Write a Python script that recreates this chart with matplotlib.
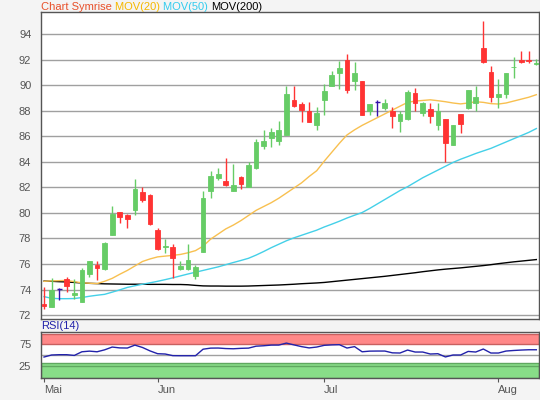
import matplotlib
matplotlib.use("Agg")
import matplotlib.pyplot as plt
import numpy as np

plt.rcParams['font.family'] = ['Liberation Sans', 'DejaVu Sans']

# daily candles (trading-day index 0..65)
opens = [72.9, 72.6, 74.05, 74.85, 73.55, 73.05, 75.25, 75.95, 75.6, 78.3,
         80.1, 79.85, 80.2, 81.65, 81.4, 78.65, 77.3, 77.3, 75.65, 75.6,
         75.05, 76.95, 81.75, 82.75, 82.5, 81.75, 82.8, 82.0, 83.55, 85.25,
         85.9, 85.6, 86.1, 88.85, 88.5, 87.95, 86.9, 88.85, 89.9, 90.95,
         91.95, 90.3, 90.35, 88.0, 88.65, 88.2, 88.0, 87.2, 87.35, 89.35,
         87.8, 88.1, 86.85, 87.35, 85.3, 87.75, 88.2, 88.6, 92.9, 91.0,
         89.05, 89.3, 91.38, 91.95, 91.95, 91.65]
highs = [74.2, 74.9, 74.15, 75.0, 74.85, 75.7, 76.25, 76.2, 77.7, 80.55,
         80.1, 79.9, 82.65, 82.0, 81.45, 78.8, 77.95, 77.6, 76.25, 77.55,
         75.9, 81.7, 83.3, 83.55, 84.3, 83.8, 82.9, 83.95, 85.75, 86.5,
         86.65, 87.2, 89.9, 89.9, 88.7, 88.7, 88.25, 90.1, 91.1, 91.85,
         92.45, 91.8, 90.35, 88.5, 88.8, 88.9, 88.3, 87.95, 89.65, 89.75,
         88.65, 88.6, 88.6, 87.35, 86.9, 87.75, 89.65, 89.95, 95.0, 91.5,
         90.45, 90.95, 92.2, 92.7, 92.65, 92.05]
lows = [72.45, 72.6, 73.2, 73.8, 73.3, 73.0, 74.95, 74.75, 75.55, 78.3,
        79.25, 78.8, 79.85, 80.85, 79.05, 77.1, 76.85, 74.9, 75.5, 75.5,
        74.8, 76.95, 81.15, 82.55, 82.1, 81.7, 81.9, 82.0, 83.4, 85.0,
        85.15, 85.3, 86.1, 88.25, 87.1, 87.1, 86.5, 87.65, 89.9, 89.7,
        89.4, 89.65, 87.65, 87.65, 87.6, 88.05, 86.65, 86.3, 87.3, 87.95,
        87.55, 87.05, 86.45, 84.0, 85.3, 86.25, 88.1, 87.95, 91.75, 88.7,
        88.2, 89.0, 90.55, 91.75, 91.75, 91.55]
closes = [72.75, 74.0, 74.05, 74.3, 73.75, 75.5, 76.2, 75.7, 77.65, 79.95,
          79.65, 79.5, 81.85, 81.0, 79.1, 77.2, 77.4, 76.45, 75.85, 76.35,
          75.75, 81.2, 82.9, 83.05, 82.15, 82.2, 82.25, 83.75, 85.55, 85.65,
          86.3, 86.5, 89.3, 88.4, 88.05, 87.15, 87.85, 89.55, 90.8, 91.35,
          89.6, 90.95, 87.65, 88.5, 88.65, 88.6, 87.6, 87.75, 89.45, 88.6,
          88.6, 87.55, 87.95, 85.5, 86.9, 86.95, 89.6, 89.1, 91.8, 89.05,
          89.3, 90.95, 91.45, 91.8, 91.85, 91.75]

mov20 = [74.65, 74.68, 74.70, 74.72, 74.62, 74.53, 74.50, 74.47, 74.65, 74.88,
         75.2, 75.5, 75.85, 76.2, 76.4, 76.56, 76.62, 76.68, 76.75, 76.88,
         77.05, 77.4, 77.95, 78.35, 78.75, 79.05, 79.4, 79.8, 80.2, 80.5,
         80.8, 81.15, 81.55, 81.95, 82.35, 82.85, 83.3, 84.05, 84.75, 85.45,
         86.1, 86.5, 86.85, 87.15, 87.45, 87.75, 88.05, 88.35, 88.65, 88.75,
         88.8, 88.85, 88.78, 88.7, 88.6, 88.53, 88.6, 88.7, 88.65, 88.55,
         88.52, 88.6, 88.75, 88.9, 89.05, 89.25]
mov50 = [73.45, 73.32, 73.29, 73.29, 73.30, 73.38, 73.48, 73.56, 73.63, 73.8,
         73.98, 74.17, 74.3, 74.42, 74.53, 74.65, 74.78, 74.92, 75.07, 75.22,
         75.36, 75.5, 75.64, 75.78, 75.95, 76.12, 76.28, 76.45, 76.7, 76.98,
         77.28, 77.55, 77.82, 78.05, 78.25, 78.45, 78.65, 78.9, 79.12, 79.35,
         79.6, 79.82, 80.03, 80.35, 80.7, 81.05, 81.4, 81.75, 82.05, 82.4,
         82.75, 83.05, 83.35, 83.65, 83.95, 84.2, 84.42, 84.65, 84.85, 85.05,
         85.3, 85.55, 85.8, 86.05, 86.3, 86.6]
mov200 = [74.67, 74.65, 74.62, 74.6, 74.56, 74.52, 74.49, 74.47, 74.45, 74.44,
          74.43, 74.42, 74.42, 74.42, 74.41, 74.41, 74.41, 74.4, 74.4, 74.38,
          74.33, 74.29, 74.28, 74.28, 74.27, 74.27, 74.27, 74.28, 74.3, 74.32,
          74.34, 74.36, 74.39, 74.42, 74.46, 74.49, 74.52, 74.56, 74.62, 74.68,
          74.74, 74.8, 74.86, 74.92, 74.98, 75.04, 75.11, 75.18, 75.25, 75.32,
          75.4, 75.47, 75.54, 75.6, 75.65, 75.7, 75.76, 75.82, 75.88, 75.95,
          76.03, 76.1, 76.17, 76.23, 76.29, 76.35]
rsi = [45.8, 50.5, 51.2, 51.2, 49.5, 58, 59.5, 58, 62.5, 69,
       67, 66.7, 73.5, 68, 60, 53.5, 52.8, 49, 48.8, 48.8,
       48.8, 64, 66.5, 66.7, 65.5, 65, 66, 66.5, 71, 72,
       73.5, 73.6, 78.2, 74, 70, 67, 69, 73, 74, 74.5,
       66.7, 70, 58, 59.5, 59.7, 59.7, 55.5, 55.1, 62, 57.4,
       57.4, 52.8, 53.5, 46, 50.5, 50.5, 58.8, 57.4, 64.4, 55.1,
       55.1, 59.7, 61, 62, 62.7, 62.7]

month_pos = [0, 15, 37, 60]
month_labels = ['Mai', 'Jun', 'Jul', 'Aug']
price_ticks = [72, 74, 76, 78, 80, 82, 84, 86, 88, 90, 92, 94]

GREEN = '#66cc66'
RED = '#ff3333'
DOJI = '#3311aa'
GRID = '#a0a0a0'
TXT = '#555555'
FS = 8

fig = plt.figure(figsize=(5.4, 4.0), dpi=100, facecolor='#f4f4f4')
ax = fig.add_axes([0.0759, 0.2025, 0.9222, 0.7675])
ax2 = fig.add_axes([0.0759, 0.055, 0.9222, 0.115], sharex=ax)

x = np.arange(len(opens))
o = np.array(opens); c = np.array(closes)
h = np.array(highs); l = np.array(lows)

# moving averages behind candles
ax.plot(x, mov200, color='black', lw=1.0, zorder=2)
ax.plot(x, mov50, color='#44d0e8', lw=1.0, zorder=2)
ax.plot(x, mov20, color='#f8c050', lw=1.0, zorder=2)

up = c > o
down = c < o
flat = c == o
for mask, col in [(up, GREEN), (down, RED)]:
    ax.vlines(x[mask], l[mask], h[mask], color=col, lw=1.0, zorder=3)
    ax.bar(x[mask], np.abs(c - o)[mask], bottom=np.minimum(o, c)[mask],
           width=0.62, color=col, edgecolor=col, linewidth=0.6, zorder=4)
ax.vlines(x[flat], l[flat], h[flat], color=DOJI, lw=1.0, zorder=4)
ax.hlines(c[flat], x[flat] - 0.35, x[flat] + 0.35, color=DOJI, lw=1.0, zorder=4)

ax.set_xlim(-0.4, 65.35)
ax.set_ylim(71.7, 95.72)
ax.set_yticks(price_ticks)
ax.grid(axis='y', color=GRID, lw=1.0)
ax.set_axisbelow(True)
ax.tick_params(axis='y', length=0, pad=7, labelsize=FS, labelcolor=TXT)
ax.tick_params(axis='x', length=0, labelbottom=False)

# RSI panel
ax2.axhspan(75, 100, facecolor='#ff8888', edgecolor='#c86060', lw=1.0, zorder=1)
ax2.axhspan(-3, 31, facecolor='#88dd88', edgecolor='#60a860', lw=1.0, zorder=1)
ax2.axhline(50, color=GRID, lw=1.0, zorder=1)
ax2.axhline(25, color='#60a860', lw=1.0, zorder=1)
ax2.plot(x, rsi, color='#2222aa', lw=1.0, zorder=3)
ax2.set_ylim(-3, 104)
ax2.set_yticks([25, 75])
ax2.tick_params(axis='y', length=0, pad=7, labelsize=FS, labelcolor=TXT)
ax2.set_xticks(month_pos)
ax2.set_xticklabels(month_labels, ha='left')
ax2.tick_params(axis='x', length=3, color=TXT, pad=2, labelsize=FS, labelcolor=TXT)
ax2.text(0.0, 1.03, 'RSI(14)', transform=ax2.transAxes, color='#2222aa',
         fontsize=FS, ha='left', va='bottom')

for a in (ax, ax2):
    a.set_facecolor('white')
    for s in a.spines.values():
        s.set_color('#555555')
        s.set_linewidth(1.0)

# coloured title row
fig.canvas.draw()
renderer = fig.canvas.get_renderer()
xpos = 41 / 540
for txt, col in [('Chart Symrise ', '#e8502a'), ('MOV(20) ', '#f5b800'),
                 ('MOV(50) ', '#33ccee'), ('MOV(200)', 'black')]:
    t = fig.text(xpos, 0.995, txt, color=col, fontsize=FS, ha='left', va='top')
    bb = t.get_window_extent(renderer)
    xpos += bb.width / fig.bbox.width

fig.savefig('out.png', dpi=100, facecolor=fig.get_facecolor())
